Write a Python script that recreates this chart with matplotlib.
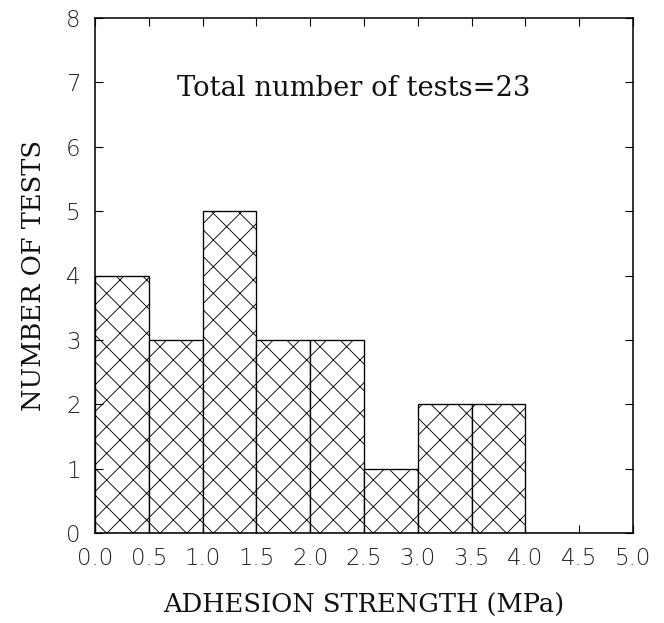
import numpy as np
import matplotlib
matplotlib.use("Agg")
import matplotlib.pyplot as plt

# histogram of adhesion tests
bin_left = [0.0, 0.5, 1.0, 1.5, 2.0, 2.5, 3.0, 3.5, 4.0, 4.5]
counts = [4, 3, 5, 3, 3, 1, 2, 2, 0, 0]
bin_width = 0.5

x_ticks = [0.0, 0.5, 1.0, 1.5, 2.0, 2.5, 3.0, 3.5, 4.0, 4.5, 5.0]
x_tick_labels = ["%.1f" % v for v in x_ticks]
y_ticks = [0, 1, 2, 3, 4, 5, 6, 7, 8]

note = "Total number of tests=23"
xlabel = "ADHESION STRENGTH (MPa)"
ylabel = "NUMBER OF TESTS"

DPI = 160
plt.rcParams["hatch.linewidth"] = 0.4
plt.rcParams["hatch.color"] = "#222222"

fig = plt.figure(figsize=(664 / DPI, 623 / DPI), dpi=DPI)
ax = fig.add_axes([95 / 664, 1 - 533 / 623, (633 - 95) / 664, (533 - 18) / 623])

ax.bar(bin_left, counts, width=bin_width, align="edge", facecolor="white",
       edgecolor="black", linewidth=0.6, hatch="xx")

ax.set_xlim(0, 5)
ax.set_ylim(0, 8)
ax.set_xticks(x_ticks)
ax.set_xticklabels(x_tick_labels)
ax.set_yticks(y_ticks)

for lab in ax.get_xticklabels() + ax.get_yticklabels():
    lab.set_fontfamily("DejaVu Sans")
    lab.set_fontweight("light")
    lab.set_fontsize(10.3)
    lab.set_color("#222222")

ax.tick_params(direction="in", length=3.5, width=0.5, top=True, right=True,
               pad=6.5)
for s in ax.spines.values():
    s.set_linewidth(0.7)

ax.text(2.4, 6.91, note, ha="center", va="center", family="DejaVu Serif",
        fontsize=12.3, color="#111111")

ax.set_xlabel(xlabel, family="DejaVu Serif", fontsize=11.6, labelpad=10,
              color="#111111")
ax.set_ylabel(ylabel, family="DejaVu Serif", fontsize=11.6, labelpad=9,
              color="#111111")

fig.savefig("out.png", dpi=DPI)
